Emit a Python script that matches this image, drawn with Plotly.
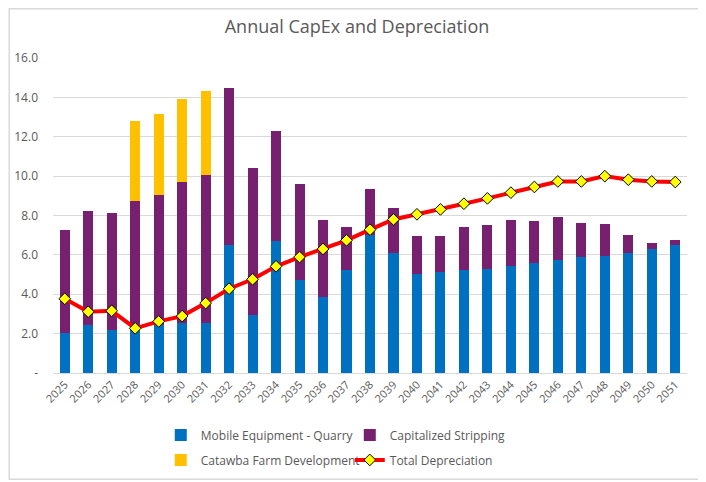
import plotly.graph_objects as go

years = [str(y) for y in range(2025, 2052)]
# stack tops; segment heights are derived by differencing
mobile_top = [2.01, 2.42, 2.20, 2.22, 2.42, 2.52, 2.55, 6.52, 2.93, 6.72, 4.72, 3.84, 5.23,
              7.02, 6.08, 5.01, 5.13, 5.23, 5.30, 5.42, 5.60, 5.74, 5.89, 5.92, 6.08, 6.30, 6.48]
stripping_top = [7.28, 8.23, 8.12, 8.75, 9.04, 9.70, 10.07, 14.47, 10.43, 12.31, 9.61, 7.79, 7.43,
                 9.33, 8.38, 6.96, 6.96, 7.40, 7.52, 7.77, 7.72, 7.90, 7.60, 7.57, 7.02, 6.62, 6.74]
catawba_top = [None, None, None, 12.78, 13.17, 13.93, 14.34] + [None] * 20
total_depreciation = [3.77, 3.11, 3.16, 2.27, 2.62, 2.89, 3.55, 4.28, 4.76, 5.42, 5.89, 6.30, 6.74,
                      7.28, 7.80, 8.06, 8.31, 8.60, 8.87, 9.16, 9.45, 9.73, 9.73, 10.00, 9.82, 9.73, 9.70]

mobile = mobile_top
stripping = [round(s - m, 2) for s, m in zip(stripping_top, mobile_top)]
catawba = [round(c - s, 2) if c is not None else 0 for c, s in zip(catawba_top, stripping_top)]

yticks = [0, 2, 4, 6, 8, 10, 12, 14, 16]
yticktext = ["-", "2.0", "4.0", "6.0", "8.0", "10.0", "12.0", "14.0", "16.0"]

FONT = "Open Sans"
GRAY = "#595959"

fig = go.Figure()
fig.add_trace(go.Bar(x=years, y=mobile, name="Mobile Equipment - Quarry",
                     marker=dict(color="#0070C0", line=dict(width=0)), legend="legend"))
fig.add_trace(go.Bar(x=years, y=stripping, name="Capitalized Stripping",
                     marker=dict(color="#77206F", line=dict(width=0)), legend="legend"))
fig.add_trace(go.Bar(x=years, y=catawba, name="Catawba Farm Development",
                     marker=dict(color="#FFC000", line=dict(width=0)), legend="legend2"))
fig.add_trace(go.Scatter(x=years, y=total_depreciation, name="Total Depreciation",
                         mode="lines+markers",
                         line=dict(color="#FF0000", width=4),
                         marker=dict(symbol="diamond", size=9, color="#FFFF00",
                                     line=dict(color="#000000", width=1)),
                         legend="legend2"))

legend_common = dict(orientation="h", xanchor="left", yanchor="middle",
                     entrywidth=144, entrywidthmode="pixels", font=dict(size=12, color=GRAY),
                     bgcolor="rgba(0,0,0,0)", traceorder="normal")

fig.update_layout(
    width=698, height=474,
    barmode="stack", bargap=0.57,
    paper_bgcolor="white", plot_bgcolor="white",
    margin=dict(l=45, r=19, t=50, b=109, autoexpand=False),
    font=dict(family=FONT, color=GRAY, size=11),
    title=dict(text="Annual CapEx and Depreciation", x=0.5, xanchor="center",
               y=0.96, yanchor="middle", font=dict(size=18, color=GRAY, family=FONT)),
    xaxis=dict(type="category", range=[-0.5, len(years) - 0.5], tickangle=-45,
               showgrid=False, showline=True,
               linecolor="#D9D9D9", linewidth=1, ticks="", tickfont=dict(size=11, color=GRAY),
               automargin=False),
    yaxis=dict(range=[0, 16], tickvals=yticks, ticktext=yticktext, showgrid=True,
               gridcolor="#D9D9D9", gridwidth=1, zeroline=False, showline=False,
               ticks="", tickfont=dict(size=12, color=GRAY), ticklabelstandoff=14,
               automargin=False),
    legend=dict(x=0.17, y=-0.197, **legend_common),
    legend2=dict(x=0.17, y=-0.276, **legend_common),
    shapes=[dict(type="rect", xref="paper", yref="paper",
                 x0=-0.069, x1=1.024, y0=-0.337, y1=1.156,
                 line=dict(color="#D9D9D9", width=1.5), fillcolor="rgba(0,0,0,0)", layer="below")],
)

fig.write_html("out.html")
